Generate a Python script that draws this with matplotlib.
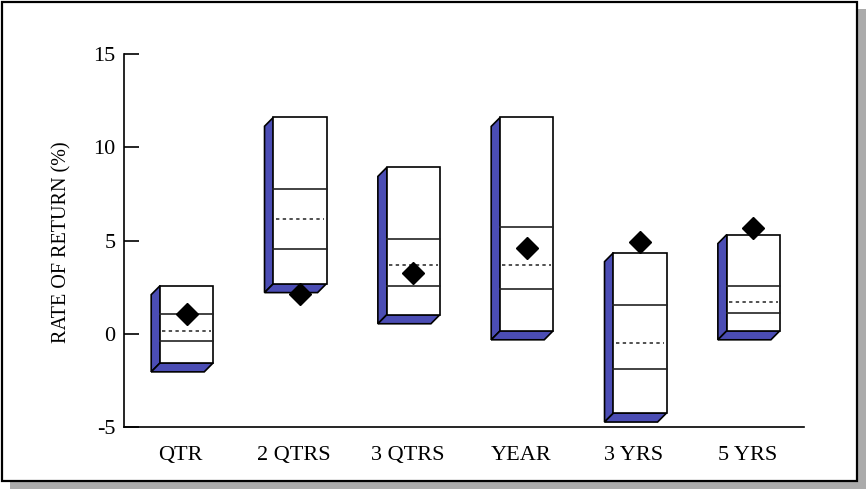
import matplotlib
matplotlib.use("Agg")
import matplotlib.pyplot as plt
from matplotlib.patches import Rectangle, Polygon

# values (rate of return, %)
periods = ["QTR", "2 QTRS", "3 QTRS", "YEAR", "3 YRS", "5 YRS"]
lows = [-1.56, 2.69, 1.02, 0.16, -4.25, 0.16]
lower_q = [-0.38, 4.52, 2.58, 2.42, -1.88, 1.13]
medians = [0.16, 6.13, 3.70, 3.70, -0.48, 1.72]
upper_q = [1.08, 7.74, 5.10, 5.75, 1.56, 2.58]
highs = [2.58, 11.61, 8.92, 11.60, 4.35, 5.32]
portfolio = [1.08, 2.15, 3.28, 4.62, 4.90, 5.65]

yticks = [-5, 0, 5, 10, 15]

W, H = 867, 490
fig = plt.figure(figsize=(W / 100, H / 100), dpi=100)
fig.patch.set_facecolor("white")

# framed panel with drop shadow
fig.patches.append(Rectangle((10 / W, 1 - 489 / H), 856 / W, 480 / H,
                             transform=fig.transFigure, facecolor="#ababab",
                             edgecolor="none", zorder=-2))
fig.patches.append(Rectangle((2 / W, 1 - 481 / H), 855 / W, 479 / H,
                             transform=fig.transFigure, facecolor="white",
                             edgecolor="black", linewidth=1.6, zorder=-1))

ax = fig.add_axes([124 / W, 1 - 427 / H, 680 / W, 373 / H])
ax.set_facecolor("none")
ax.set_xlim(-0.5, len(periods) - 0.5)
ax.set_ylim(-5, 15)

serif = "Liberation Serif"
blue = "#4b4db4"
width = 0.468
shift = 0.053
dx = -0.079   # depth of the 3d effect, in data units
dy = -0.484

for i in range(len(periods)):
    x0 = i + shift - width / 2
    x1 = x0 + width
    lo, hi = lows[i], highs[i]
    side = Polygon([(x0, hi), (x0, lo), (x0 + dx, lo + dy), (x0 + dx, hi + dy)],
                   closed=True, facecolor=blue, edgecolor="black", linewidth=1.2, zorder=2)
    bottom = Polygon([(x0, lo), (x1, lo), (x1 + dx, lo + dy), (x0 + dx, lo + dy)],
                     closed=True, facecolor=blue, edgecolor="black", linewidth=1.2, zorder=2)
    front = Rectangle((x0, lo), width, hi - lo, facecolor="white",
                      edgecolor="black", linewidth=1.2, zorder=3)
    ax.add_patch(side)
    ax.add_patch(bottom)
    ax.add_patch(front)
    ax.plot([x0, x1], [upper_q[i]] * 2, color="#222222", lw=1.2, zorder=4)
    ax.plot([x0, x1], [lower_q[i]] * 2, color="#222222", lw=1.2, zorder=4)
    ax.plot([x0 + 0.02, x1 - 0.02], [medians[i]] * 2, color="#222222", lw=1.1,
            linestyle=(0, (2.2, 2.2)), zorder=4)

ax.plot([i + shift for i in range(len(periods))], portfolio, linestyle="none",
        marker="D", markersize=11.5, color="black", zorder=5)

ax.spines["top"].set_visible(False)
ax.spines["right"].set_visible(False)
ax.spines["left"].set_linewidth(1.2)
ax.spines["bottom"].set_linewidth(1.2)

ax.set_xticks(range(len(periods)))
ax.set_xticklabels(periods, fontfamily=serif, fontsize=16)
ax.tick_params(axis="x", length=0, pad=14)
ax.set_yticks(yticks)
ax.set_yticklabels([str(t) for t in yticks], fontfamily=serif, fontsize=16)
ax.tick_params(axis="y", direction="in", length=11, width=1.2, pad=6)

fig.text(62 / W, 1 - 242 / H, "RATE OF RETURN (%)", rotation=90,
         ha="center", va="center", fontfamily=serif, fontsize=14.5)

fig.savefig("out.png", dpi=100)
